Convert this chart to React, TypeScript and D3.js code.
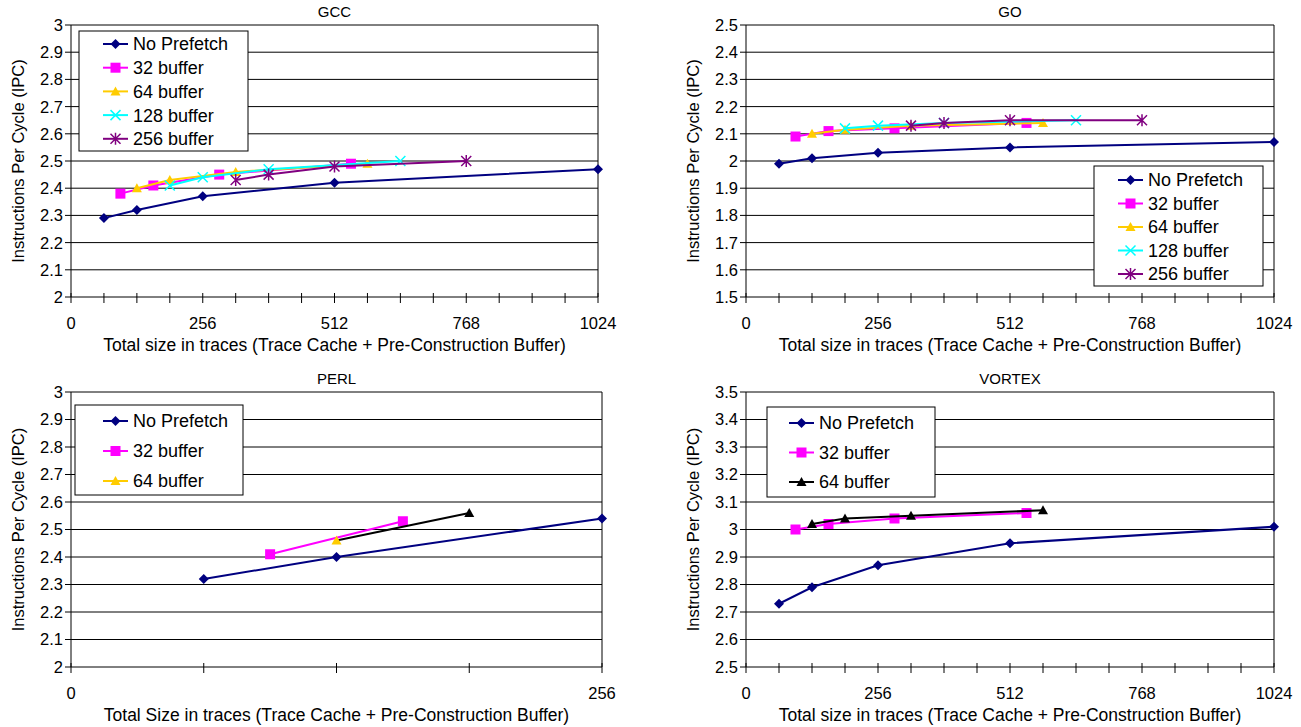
import React from "react";
import * as d3 from "d3";

// trace cache sizes (x values) for each configuration
const noPrefetchSizes = [64, 128, 256, 512, 1024];
const buf32Sizes = [96, 160, 288, 544];
const buf64Sizes = [128, 192, 320, 576];
const buf128Sizes = [192, 256, 384, 640];
const buf256Sizes = [320, 384, 512, 768];

// GCC
const gccNoPrefetch = [2.29, 2.32, 2.37, 2.42, 2.47];
const gcc32 = [2.38, 2.41, 2.45, 2.49];
const gcc64 = [2.4, 2.43, 2.46, 2.49];
const gcc128 = [2.41, 2.44, 2.47, 2.5];
const gcc256 = [2.43, 2.45, 2.48, 2.5];

// GO
const goNoPrefetch = [1.99, 2.01, 2.03, 2.05, 2.07];
const go32 = [2.09, 2.11, 2.12, 2.14];
const go64 = [2.1, 2.115, 2.13, 2.14];
const go128 = [2.12, 2.13, 2.14, 2.15];
const go256 = [2.13, 2.14, 2.15, 2.15];

// PERL
const perlNoPrefetchSizes = [64, 128, 256];
const perlNoPrefetch = [2.32, 2.4, 2.54];
const perl32Sizes = [96, 160];
const perl32 = [2.41, 2.53];
const perl64Sizes = [128, 192];
const perl64 = [2.46, 2.56];

// VORTEX
const vortexNoPrefetch = [2.73, 2.79, 2.87, 2.95, 3.01];
const vortex32 = [3.0, 3.02, 3.04, 3.06];
const vortex64 = [3.02, 3.04, 3.05, 3.07];

const bigTicks = [0, 256, 512, 768, 1024];
const smallTicks = [0, 256];

const FONT = "'Liberation Sans', Arial, sans-serif";
const NAVY = "#000080";
const MAGENTA = "#FF00FF";
const GOLD = "#FFCC00";
const CYAN = "#00FFFF";
const PURPLE = "#800080";

type Marker = "diamond" | "square" | "triangle" | "x" | "star";

interface Series {
  name: string;
  xs: number[];
  ys: number[];
  color: string;
  marker: Marker;
  markerColors?: string[];
  legendColor?: string;
}

function MarkerShape({ type, x, y, color }: { type: Marker; x: number; y: number; color: string }) {
  const t = `translate(${x},${y})`;
  if (type === "diamond") return <path transform={t} d="M0,-5L5,0L0,5L-5,0Z" fill={color} />;
  if (type === "square") return <rect x={x - 5} y={y - 5} width={10} height={10} fill={color} />;
  if (type === "triangle") return <path transform={t} d="M0,-5L5,4L-5,4Z" fill={color} />;
  if (type === "x")
    return <path transform={t} d="M-5,-5L5,5M5,-5L-5,5" stroke={color} strokeWidth={1.5} fill="none" />;
  return <path transform={t} d="M-5,-5L5,5M5,-5L-5,5M0,-6L0,6" stroke={color} strokeWidth={1.5} fill="none" />;
}

interface PanelProps {
  title: string;
  xTitle: string;
  left: number;
  right: number;
  top: number;
  bottom: number;
  xMax: number;
  xLabels: number[];
  yMin: number;
  yMax: number;
  series: Series[];
  legend: { x: number; y: number; w: number; h: number; first: number; step: number; lineX: number };
}

function Panel(p: PanelProps) {
  const x = d3.scaleLinear().domain([0, p.xMax]).range([p.left, p.right]);
  const y = d3.scaleLinear().domain([p.yMin, p.yMax]).range([p.bottom, p.top]);
  const yTicks = d3.range(0, 11).map((i) => +(p.yMin + i * 0.1).toFixed(1));
  const xTicks = d3.range(0, p.xMax + 1, 64);
  const line = d3
    .line<[number, number]>()
    .x((d) => x(d[0]))
    .y((d) => y(d[1]));
  const midX = (p.left + p.right) / 2;

  return (
    <g>
      <text x={midX} y={p.top - 8} textAnchor="middle" fontSize={15}>
        {p.title}
      </text>
      {/* gridlines */}
      {yTicks.map((t) => (
        <g key={t}>
          <line x1={p.left} x2={p.right} y1={y(t)} y2={y(t)} stroke="#000" strokeWidth={1} />
          <line x1={p.left - 6} x2={p.left} y1={y(t)} y2={y(t)} stroke="#000" strokeWidth={1} />
          <text x={p.left - 8} y={y(t)} dy="0.36em" textAnchor="end" fontSize={16.5}>
            {t}
          </text>
        </g>
      ))}
      <line x1={p.left} x2={p.left} y1={p.top} y2={p.bottom} stroke="#000" />
      <line x1={p.right} x2={p.right} y1={p.top} y2={p.bottom} stroke="#000" />
      {xTicks.map((t) => (
        <line key={t} x1={x(t)} x2={x(t)} y1={p.bottom - 4} y2={p.bottom + 6} stroke="#000" />
      ))}
      {p.xLabels.map((t) => (
        <text key={t} x={x(t)} y={p.bottom + 26} dy="0.36em" textAnchor="middle" fontSize={16.5}>
          {t}
        </text>
      ))}
      <text x={midX} y={p.bottom + 48} dy="0.36em" textAnchor="middle" fontSize={17.5}>
        {p.xTitle}
      </text>
      <text
        transform={`translate(${p.left - 53},${(p.top + p.bottom) / 2}) rotate(-90)`}
        textAnchor="middle"
        dy="0.36em"
        fontSize={16.5}
      >
        Instructions Per Cycle (IPC)
      </text>
      {/* series */}
      {p.series.map((s) => {
        const pts = s.xs.map((v, i) => [v, s.ys[i]] as [number, number]);
        return (
          <g key={s.name}>
            <path d={line(pts) || ""} fill="none" stroke={s.color} strokeWidth={2} />
            {pts.map((d, i) => (
              <MarkerShape
                key={i}
                type={s.marker}
                x={x(d[0])}
                y={y(d[1])}
                color={s.markerColors ? s.markerColors[i] : s.color}
              />
            ))}
          </g>
        );
      })}
      {/* legend */}
      <rect x={p.legend.x} y={p.legend.y} width={p.legend.w} height={p.legend.h} fill="#fff" stroke="#000" />
      {p.series.map((s, i) => {
        const ly = p.legend.first + i * p.legend.step;
        const c = s.legendColor || s.color;
        return (
          <g key={s.name}>
            <line x1={p.legend.lineX} x2={p.legend.lineX + 25} y1={ly} y2={ly} stroke={c} strokeWidth={2} />
            <MarkerShape type={s.marker} x={p.legend.lineX + 12.5} y={ly} color={c} />
            <text x={p.legend.lineX + 30} y={ly} dy="0.36em" fontSize={18}>
              {s.name}
            </text>
          </g>
        );
      })}
    </g>
  );
}

export default function App() {
  const fiveSeries = (a: number[], b: number[], c: number[], d: number[], e: number[]): Series[] => [
    { name: "No Prefetch", xs: noPrefetchSizes, ys: a, color: NAVY, marker: "diamond" },
    { name: "32 buffer", xs: buf32Sizes, ys: b, color: MAGENTA, marker: "square" },
    { name: "64 buffer", xs: buf64Sizes, ys: c, color: GOLD, marker: "triangle" },
    { name: "128 buffer", xs: buf128Sizes, ys: d, color: CYAN, marker: "x" },
    { name: "256 buffer", xs: buf256Sizes, ys: e, color: PURPLE, marker: "star" },
  ];

  const perlSeries: Series[] = [
    { name: "No Prefetch", xs: perlNoPrefetchSizes, ys: perlNoPrefetch, color: NAVY, marker: "diamond" },
    { name: "32 buffer", xs: perl32Sizes, ys: perl32, color: MAGENTA, marker: "square" },
    {
      name: "64 buffer",
      xs: perl64Sizes,
      ys: perl64,
      color: "#000",
      marker: "triangle",
      markerColors: [GOLD, "#000"],
      legendColor: GOLD,
    },
  ];

  const vortexSeries: Series[] = [
    { name: "No Prefetch", xs: noPrefetchSizes, ys: vortexNoPrefetch, color: NAVY, marker: "diamond" },
    { name: "32 buffer", xs: buf32Sizes, ys: vortex32, color: MAGENTA, marker: "square" },
    { name: "64 buffer", xs: buf64Sizes, ys: vortex64, color: "#000", marker: "triangle" },
  ];

  const xTitle = "Total size in traces (Trace Cache + Pre-Construction Buffer)";

  return (
    <svg
      width={1301}
      height={727}
      style={{ position: "absolute", left: 0, top: 0, background: "#fff", fontFamily: FONT }}
    >
      <Panel
        title="GCC"
        xTitle={xTitle}
        left={71}
        right={598}
        top={25}
        bottom={297}
        xMax={1024}
        xLabels={bigTicks}
        yMin={2}
        yMax={3}
        series={fiveSeries(gccNoPrefetch, gcc32, gcc64, gcc128, gcc256)}
        legend={{ x: 79, y: 31, w: 169, h: 120, first: 44, step: 23.7, lineX: 103 }}
      />
      <Panel
        title="GO"
        xTitle={xTitle}
        left={746}
        right={1274}
        top={25}
        bottom={297}
        xMax={1024}
        xLabels={bigTicks}
        yMin={1.5}
        yMax={2.5}
        series={fiveSeries(goNoPrefetch, go32, go64, go128, go256)}
        legend={{ x: 1094, y: 166, w: 169, h: 120, first: 180, step: 23.5, lineX: 1118 }}
      />
      <Panel
        title="PERL"
        xTitle="Total Size in traces (Trace Cache + Pre-Construction Buffer)"
        left={71}
        right={602}
        top={392}
        bottom={667}
        xMax={256}
        xLabels={smallTicks}
        yMin={2}
        yMax={3}
        series={perlSeries}
        legend={{ x: 75, y: 405, w: 168, h: 90, first: 421, step: 30, lineX: 103 }}
      />
      <Panel
        title="VORTEX"
        xTitle={xTitle}
        left={746}
        right={1274}
        top={392}
        bottom={667}
        xMax={1024}
        xLabels={bigTicks}
        yMin={2.5}
        yMax={3.5}
        series={vortexSeries}
        legend={{ x: 767, y: 407, w: 168, h: 90, first: 423, step: 29.5, lineX: 789 }}
      />
    </svg>
  );
}
